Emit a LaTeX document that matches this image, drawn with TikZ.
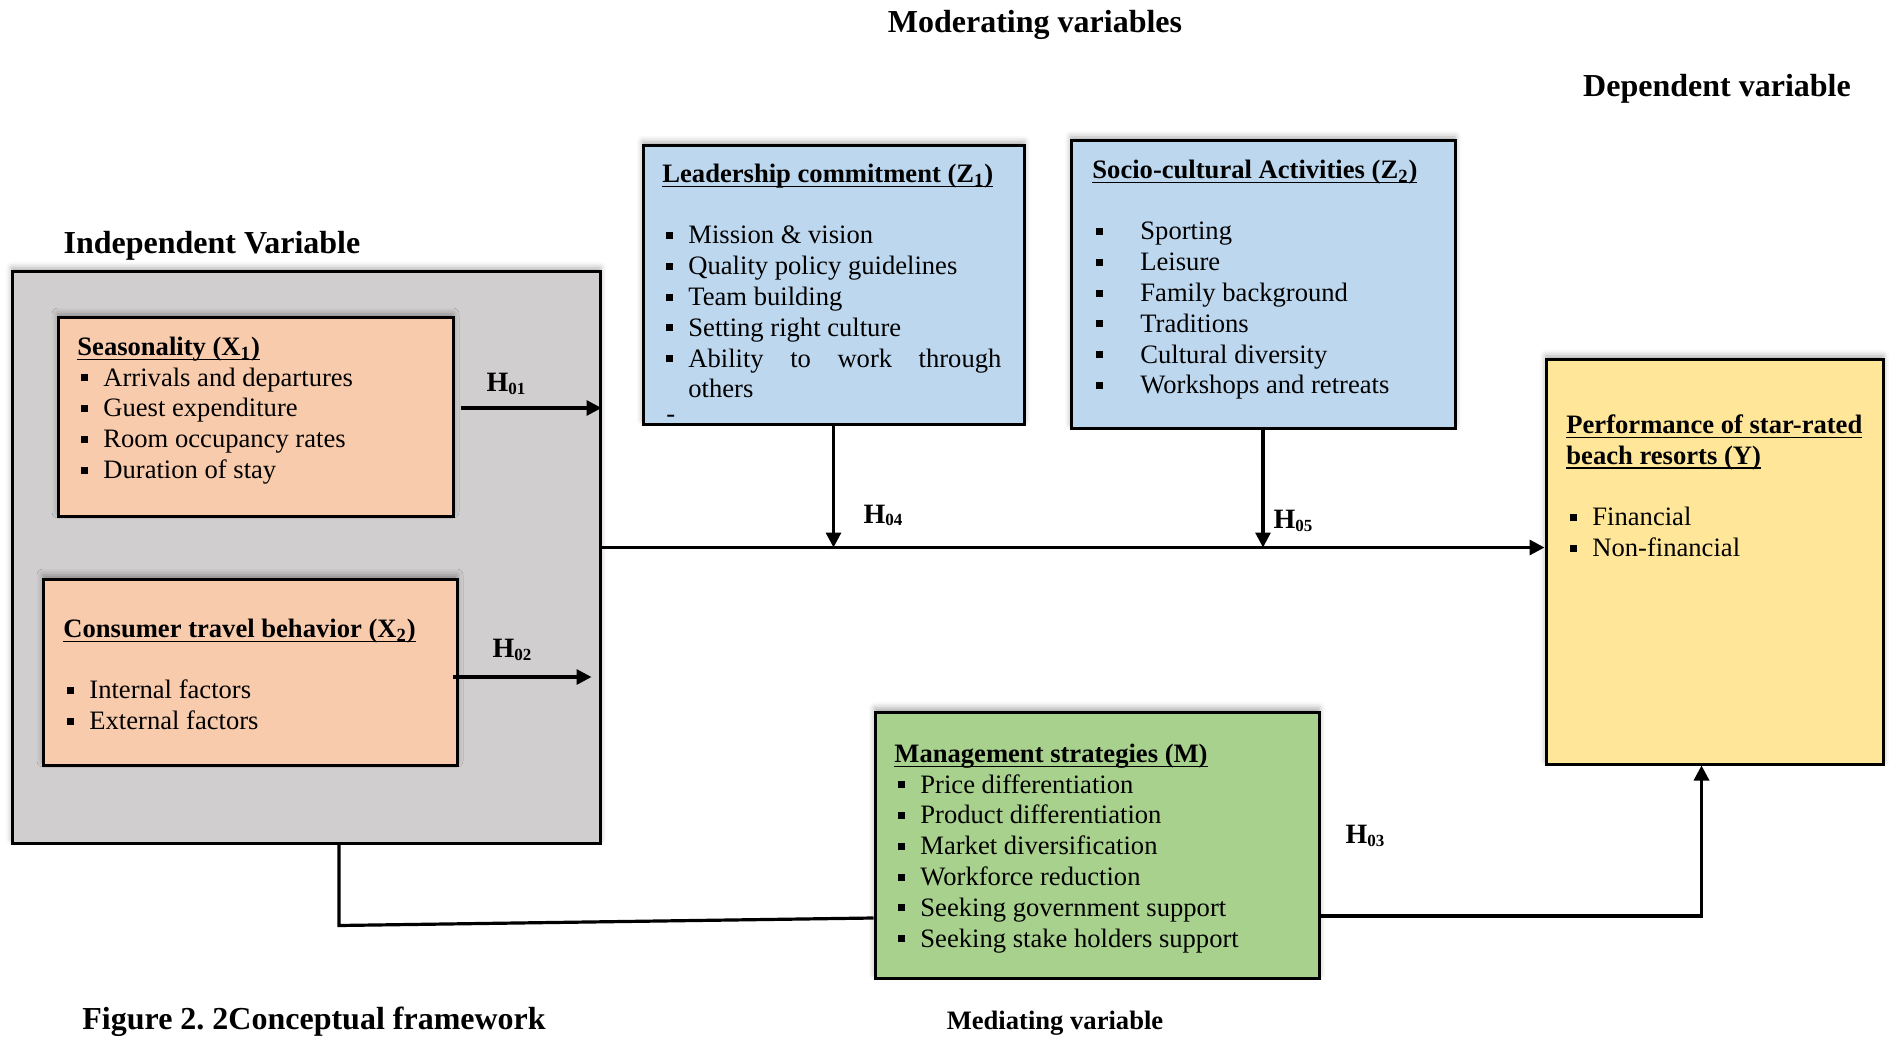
\documentclass[tikz,border=0pt]{standalone}
\usepackage{fontspec}
\setmainfont{Liberation Serif}
\usetikzlibrary{arrows.meta,fit,shadows.blur}
\definecolor{indepgray}{HTML}{D0CECE}
\definecolor{indorange}{HTML}{F8CBAD}
\definecolor{modblue}{HTML}{BDD7EE}
\definecolor{depyellow}{HTML}{FFE699}
\definecolor{medgreen}{HTML}{A9D18E}
\frenchspacing
\newlength{\ulw}
\newcommand{\ulhead}[1]{\settowidth{\ulw}{\textbf{#1}}\rlap{\rule[-2.5pt]{\ulw}{0.9pt}}\textbf{#1}}
\newcommand{\itm}[2][13pt]{\makebox[#1][l]{\hspace*{2pt}\rule[2.5pt]{3.5pt}{3.5pt}}#2}
\newcommand{\hsub}[1]{\raisebox{-1.5pt}{\fontsize{8.5}{9}\selectfont #1}}

\begin{document}
\begin{tikzpicture}[x=0.5pt,y=-0.5pt,
    box/.style={draw=black,line width=1.5pt,inner sep=0pt,
      blur shadow={shadow xshift=0pt,shadow yshift=2pt,shadow blur radius=3pt,shadow opacity=35}},
    lst/.style={anchor=north west,align=left,inner sep=0pt,font=\fontsize{13.3}{15.4}\selectfont},
    ttl/.style={anchor=base,inner sep=0pt,font=\fontsize{16}{19}\selectfont\bfseries},
    hyp/.style={anchor=base,inner sep=0pt,font=\fontsize{14}{15.4}\selectfont\bfseries},
    arr/.style={line width=1.6pt,-{Triangle[length=7.5pt,width=7.5pt]}},
    link/.style={line width=1.6pt}]
\useasboundingbox (0,0) rectangle (1889,1037);

\node[ttl] (modlbl) at (1035,32.5) {Moderating variables};
\node[ttl] (deplbl) at (1717,96.5) {Dependent variable};
\node[ttl] (indlbl) at (212,253.5) {Independent Variable};
\node[ttl,anchor=base west] (figlbl) at (82,1029.5) {Figure 2. 2Conceptual framework};
\node[hyp,font=\fontsize{13.3}{15.4}\selectfont\bfseries] (medlbl) at (1055,1029) {Mediating variable};

\node[box,fill=indepgray,fit={(12,272) (600,843)}] (indep) {};
\node[box,fill=indorange,fit={(58,318) (453,516)}] (seas) {};
\node[box,fill=indorange,fit={(43,579) (457,765)}] (cons) {};
\node[box,fill=modblue,fit={(643,146) (1024,424)}] (lead) {};
\node[box,fill=modblue,fit={(1071,141) (1455,428)}] (soc) {};
\node[box,fill=depyellow,fit={(1546,360) (1883,764)}] (perf) {};
\node[box,fill=medgreen,fit={(875,712) (1319,978)}] (mgmt) {};

\node[lst] (seastxt) at (77,333.4) {\strut\ulhead{Seasonality (X\textsubscript{1})}\\\itm{Arrivals and departures}\\\itm{Guest expenditure}\\\itm{Room occupancy rates}\\\itm{Duration of stay}};
\node[lst] (constxt) at (63,615.4) {\strut\ulhead{Consumer travel behavior (X\textsubscript{2})}\\[15.4pt]\itm{Internal factors}\\\itm{External factors}};
\node[lst] (leadtxt) at (662,160.4) {\strut\ulhead{Leadership commitment (Z\textsubscript{1})}\\[15.4pt]\itm{Mission \& vision}\\\itm{Quality policy guidelines}\\\itm{Team building}\\\itm{Setting right culture}\\\itm{\makebox[156.5pt][s]{Ability to work through}}\\\hspace*{13pt}others\\[-2.9pt]\hspace*{2pt}-};
\node[lst] (soctxt) at (1092,156.4) {\strut\ulhead{Socio-cultural Activities (Z\textsubscript{2})}\\[15.4pt]\itm[24pt]{Sporting}\\\itm[24pt]{Leisure}\\\itm[24pt]{Family background}\\\itm[24pt]{Traditions}\\\itm[24pt]{Cultural diversity}\\\itm[24pt]{Workshops and retreats}};
\node[lst] (perftxt) at (1566,411.4) {\strut\ulhead{Performance of star-rated}\\\ulhead{beach resorts (Y)}\\[15.4pt]\itm{Financial}\\\itm{Non-financial}};
\node[lst] (mgmttxt) at (894,740.4) {\strut\ulhead{Management strategies (M)}\\\itm{Price differentiation}\\\itm{Product differentiation}\\\itm{Market diversification}\\\itm{Workforce reduction}\\\itm{Seeking government support}\\\itm{Seeking stake holders support}};

\coordinate (h1) at ([shift={(6,-9)}]seas.east);
\coordinate (h1e) at (h1 -| indep.east);
\coordinate (h2) at ([shift={(-6,5)}]cons.east);
\coordinate (h2e) at (h2 -| indep.east);
\coordinate (mainL) at ([shift={(0,-10)}]indep.east);
\coordinate (mainR) at (mainL -| perf.west);
\draw[arr] (h1) -- (h1e);
\draw[arr] (h2) -- ([shift={(-10,0)}]h2e);
\draw[arr] (mainL) -- (mainR);
\draw[arr] (lead.south) -- (lead.south |- mainL);
\draw[arr] (soc.south) -- (soc.south |- mainL);
\draw[link] ([shift={(33,0)}]indep.south) -- ([shift={(33,81)}]indep.south) -- ([shift={(0,73)}]mgmt.west);
\draw[arr] ([shift={(0,71)}]mgmt.east) -| ([shift={(-13,0)}]perf.south);

\node[hyp] (h01) at (506,392) {H\hsub{01}};
\node[hyp] (h02) at (512,657) {H\hsub{02}};
\node[hyp] (h04) at (883,523) {H\hsub{04}};
\node[hyp] (h05) at (1293,528) {H\hsub{05}};
\node[hyp] (h03) at (1365,843) {H\hsub{03}};
\end{tikzpicture}
\end{document}
